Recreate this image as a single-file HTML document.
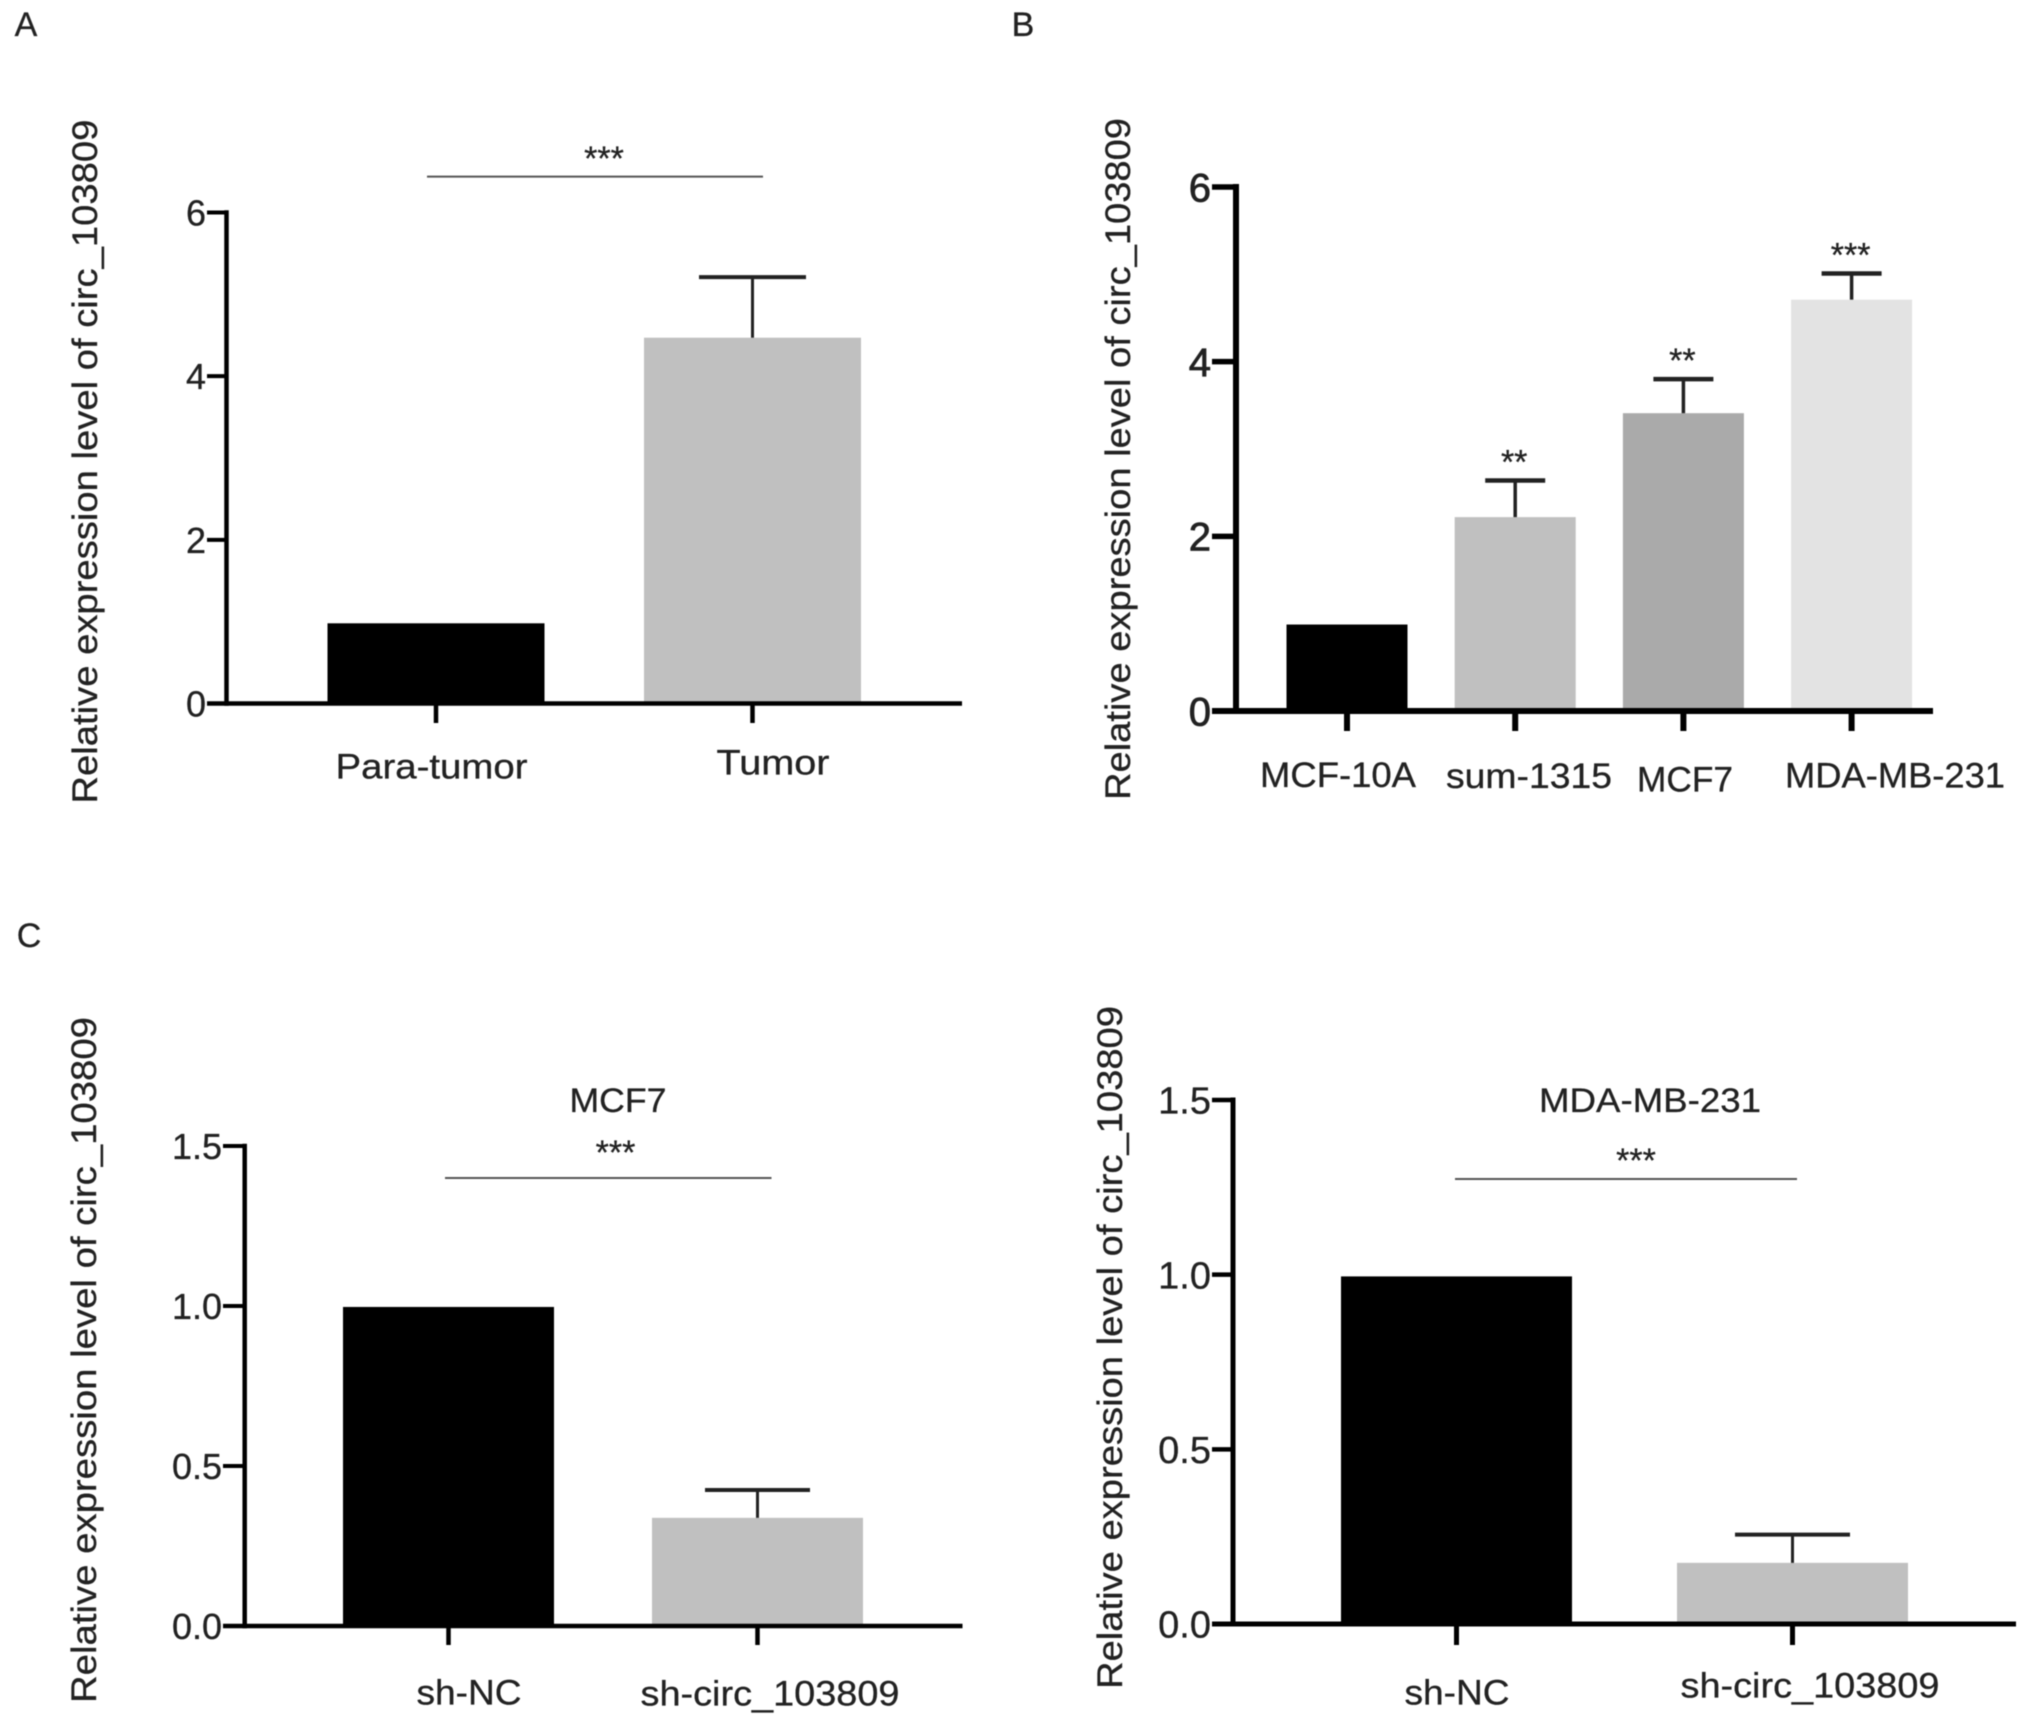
<!DOCTYPE html>
<html lang="en">
<head>
<meta charset="utf-8">
<title>Relative expression level of circ_103809</title>
<style>
  html, body { margin: 0; padding: 0; background: #ffffff; }
  body { width: 2031px; height: 1724px; overflow: hidden; }
  svg { display: block; filter: blur(0.55px); }
  text { font-family: "Liberation Sans", Arial, sans-serif; fill: #222222; stroke: #222222; stroke-width: 0.3px; }
</style>
</head>
<body>
<svg id="figure" xmlns="http://www.w3.org/2000/svg" width="2031" height="1724" viewBox="0 0 2031 1724">
  <rect x="0" y="0" width="2031" height="1724" fill="#ffffff"></rect>
</svg>
<script>
// ---- Chart data ----
const yAxisTitle = 'Relative expression level of circ_103809';

const panelACategories = ['Para-tumor', 'Tumor'];
const panelAValues = [0.98, 4.47];
const panelAErrors = [0, 0.74];
const panelATicks = ['0', '2', '4', '6'];
const panelAColors = ['#000000', '#c0c0c0'];
const panelAStars = ['', ''];

const panelBCategories = ['MCF-10A', 'sum-1315', 'MCF7', 'MDA-MB-231'];
const panelBValues = [0.99, 2.22, 3.41, 4.71];
const panelBErrors = [0, 0.42, 0.39, 0.30];
const panelBTicks = ['0', '2', '4', '6'];
const panelBColors = ['#000000', '#c0c0c0', '#aaaaaa', '#e3e3e3'];
const panelBStars = ['', '**', '**', '***'];

const panelCCategories = ['sh-NC', 'sh-circ_103809'];
const panelCValues = [0.997, 0.338];
const panelCErrors = [0, 0.087];
const panelCTicks = ['0.0', '0.5', '1.0', '1.5'];
const panelCColors = ['#000000', '#c0c0c0'];
const panelCStars = ['', ''];

const panelDCategories = ['sh-NC', 'sh-circ_103809'];
const panelDValues = [0.995, 0.175];
const panelDErrors = [0, 0.081];
const panelDTicks = ['0.0', '0.5', '1.0', '1.5'];
const panelDColors = ['#000000', '#c0c0c0'];
const panelDStars = ['', ''];

// ---- Drawing helpers ----
const NS = 'http://www.w3.org/2000/svg';
const root = document.getElementById('figure');

function makeLine(parent, x1, y1, x2, y2, width, color) {
  const el = document.createElementNS(NS, 'line');
  el.setAttribute('x1', x1);
  el.setAttribute('y1', y1);
  el.setAttribute('x2', x2);
  el.setAttribute('y2', y2);
  el.setAttribute('stroke', color);
  el.setAttribute('stroke-width', width);
  parent.appendChild(el);
  return el;
}

function makeText(parent, str, x, y, size, anchor) {
  const el = document.createElementNS(NS, 'text');
  el.setAttribute('x', x);
  el.setAttribute('y', y);
  el.setAttribute('font-size', size);
  el.setAttribute('text-anchor', anchor);
  el.textContent = str;
  parent.appendChild(el);
  return el;
}

function drawPanel(cfg) {
  const g = document.createElementNS(NS, 'g');
  
  
  root.appendChild(g);

  const tickNumbers = cfg.ticks.map(parseFloat);
  const maxTick = tickNumbers[tickNumbers.length - 1];
  const yScale = function (v) { return cfg.y0 - (v / maxTick) * (cfg.y0 - cfg.yTop); };
  const xScale = function (i) { return cfg.xFirst + i * cfg.xStep; };

  // bars + error bars + significance marks
  cfg.values.forEach(function (v, i) {
    const bar = document.createElementNS(NS, 'rect');
    bar.setAttribute('x', xScale(i) - cfg.barWidth / 2);
    bar.setAttribute('y', yScale(v));
    bar.setAttribute('width', cfg.barWidth);
    bar.setAttribute('height', cfg.y0 - yScale(v));
    bar.setAttribute('fill', cfg.colors[i]);
    
    
    g.appendChild(bar);

    if (cfg.errors[i] > 0) {
      const top = yScale(v + cfg.errors[i]);
      const stem = makeLine(g, xScale(i), yScale(v), xScale(i), top, cfg.errWidth, '#222222');
      
      
      const cap = makeLine(g, xScale(i) - cfg.capWidth / 2, top, xScale(i) + cfg.capWidth / 2, top, cfg.errWidth + 1, '#222222');
      
      
    }
    if (cfg.stars[i]) {
      const starY = yScale(v + cfg.errors[i]) - 22 + 15;
      const star = makeText(g, cfg.stars[i], xScale(i) - 1, starY, 34, 'middle');
      
      
    }
  });

  // axes
  const yAxis = makeLine(g, cfg.axisX, cfg.yTop - cfg.axisWidth / 2, cfg.axisX, cfg.y0 + cfg.axisWidth / 2, cfg.axisWidth, '#000000');
  
  
  const xAxis = makeLine(g, cfg.tickLeft, cfg.y0, cfg.xRight, cfg.y0, cfg.axisWidth, '#000000');
  
  

  // y ticks
  cfg.ticks.forEach(function (label, i) {
    const y = yScale(tickNumbers[i]);
    const tick = makeLine(g, cfg.tickLeft, y, cfg.axisX, y, cfg.axisWidth - 0.5, '#000000');
    
    
    const t = makeText(g, label, cfg.tickLeft - 1, y + cfg.tickSize * 0.36, cfg.tickSize, 'end');
    
    
    if (cfg.tickStroke) {
      t.setAttribute('style', 'stroke-width:' + cfg.tickStroke + 'px');
    }
  });

  // x ticks + labels
  cfg.categories.forEach(function (name, i) {
    const x = xScale(i);
    const tick = makeLine(g, x, cfg.y0, x, cfg.tickBottom, cfg.axisWidth, '#000000');
    
    
    const t = makeText(g, name, cfg.labelX[i], cfg.labelY[i] + cfg.labelSize * 0.36, cfg.labelSize, 'middle');
    t.setAttribute('textLength', cfg.labelLength[i]);
    t.setAttribute('lengthAdjust', 'spacingAndGlyphs');
    
    
  });

  // y axis title
  const title = makeText(g, yAxisTitle, 0, 0, cfg.titleSize, 'middle');
  title.setAttribute('transform', 'translate(' + cfg.titleX + ',' + cfg.titleY + ') rotate(-90)');
  title.setAttribute('textLength', cfg.titleLength);
  title.setAttribute('lengthAdjust', 'spacingAndGlyphs');
  
  

  // significance bracket
  if (cfg.sig) {
    const sigLine = makeLine(g, cfg.sig.x1, cfg.sig.y, cfg.sig.x2, cfg.sig.y, 2, '#555555');
    
    
    const sigStars = makeText(g, '***', cfg.sig.starX, cfg.sig.starY + 14.5, 34, 'middle');
    
    
  }

  // chart heading
  if (cfg.heading) {
    const h = makeText(g, cfg.heading, cfg.headingX, 1100 + 12, 34, 'middle');
    h.setAttribute('textLength', cfg.headingLength);
    h.setAttribute('lengthAdjust', 'spacingAndGlyphs');
    
    
  }

  // panel letter
  if (cfg.letter) {
    const l = makeText(g, cfg.letter, cfg.letterX, cfg.letterY + 11, 34, 'middle');
    
    
  }
}

drawPanel({
  id: 'a', letter: 'A', letterX: 26, letterY: 25,
  categories: panelACategories, values: panelAValues, errors: panelAErrors,
  ticks: panelATicks, colors: panelAColors, stars: panelAStars,
  axisX: 226.5, y0: 703.5, yTop: 212.5, tickLeft: 207, tickBottom: 723, xRight: 962,
  xFirst: 436, xStep: 316.5, barWidth: 217, capWidth: 107, errWidth: 3, axisWidth: 4.5,
  tickSize: 36, labelSize: 35,
  labelX: [431.5, 773], labelY: [766, 762], labelLength: [192, 113],
  titleX: 97, titleY: 461.6, titleLength: 684, titleSize: 35,
  sig: { x1: 427, x2: 763, y: 176.6, starX: 604, starY: 155.5 }
});

drawPanel({
  id: 'b', letter: 'B', letterX: 1023, letterY: 25,
  categories: panelBCategories, values: panelBValues, errors: panelBErrors,
  ticks: panelBTicks, colors: panelBColors, stars: panelBStars,
  axisX: 1236, y0: 711, yTop: 187, tickLeft: 1212, tickBottom: 731, xRight: 1933,
  xFirst: 1347, xStep: 168.2, barWidth: 121, capWidth: 60, errWidth: 3.5, axisWidth: 6,
  tickSize: 40, tickStroke: 0.8, labelSize: 35,
  labelX: [1338, 1529, 1685, 1895], labelY: [774.6, 775.5, 779, 775], labelLength: [156, 166, 96, 220],
  titleX: 1130, titleY: 459, titleLength: 682, titleSize: 35
});

drawPanel({
  id: 'c', letter: 'C', letterX: 29, letterY: 936,
  categories: panelCCategories, values: panelCValues, errors: panelCErrors,
  ticks: panelCTicks, colors: panelCColors, stars: panelCStars,
  axisX: 244.7, y0: 1626, yTop: 1146, tickLeft: 223, tickBottom: 1645, xRight: 962.5,
  xFirst: 448.5, xStep: 309, barWidth: 211, capWidth: 105, errWidth: 3, axisWidth: 4.5,
  tickSize: 36, labelSize: 35,
  labelX: [469, 770], labelY: [1692, 1693], labelLength: [105, 259],
  titleX: 96, titleY: 1360, titleLength: 686, titleSize: 35,
  heading: 'MCF7', headingX: 618, headingLength: 97,
  sig: { x1: 445, x2: 771.5, y: 1178, starX: 615.5, starY: 1149.5 }
});

drawPanel({
  id: 'd',
  categories: panelDCategories, values: panelDValues, errors: panelDErrors,
  ticks: panelDTicks, colors: panelDColors, stars: panelDStars,
  axisX: 1233, y0: 1624, yTop: 1100, tickLeft: 1212, tickBottom: 1645, xRight: 2016,
  xFirst: 1456.5, xStep: 336, barWidth: 231, capWidth: 115, errWidth: 3, axisWidth: 5,
  tickSize: 38, labelSize: 35,
  labelX: [1457, 1810], labelY: [1692, 1685], labelLength: [105, 259],
  titleX: 1122, titleY: 1347.5, titleLength: 683, titleSize: 35,
  heading: 'MDA-MB-231', headingX: 1650, headingLength: 222,
  sig: { x1: 1455, x2: 1797, y: 1179, starX: 1636, starY: 1157.5 }
});
</script>
</body>
</html>
